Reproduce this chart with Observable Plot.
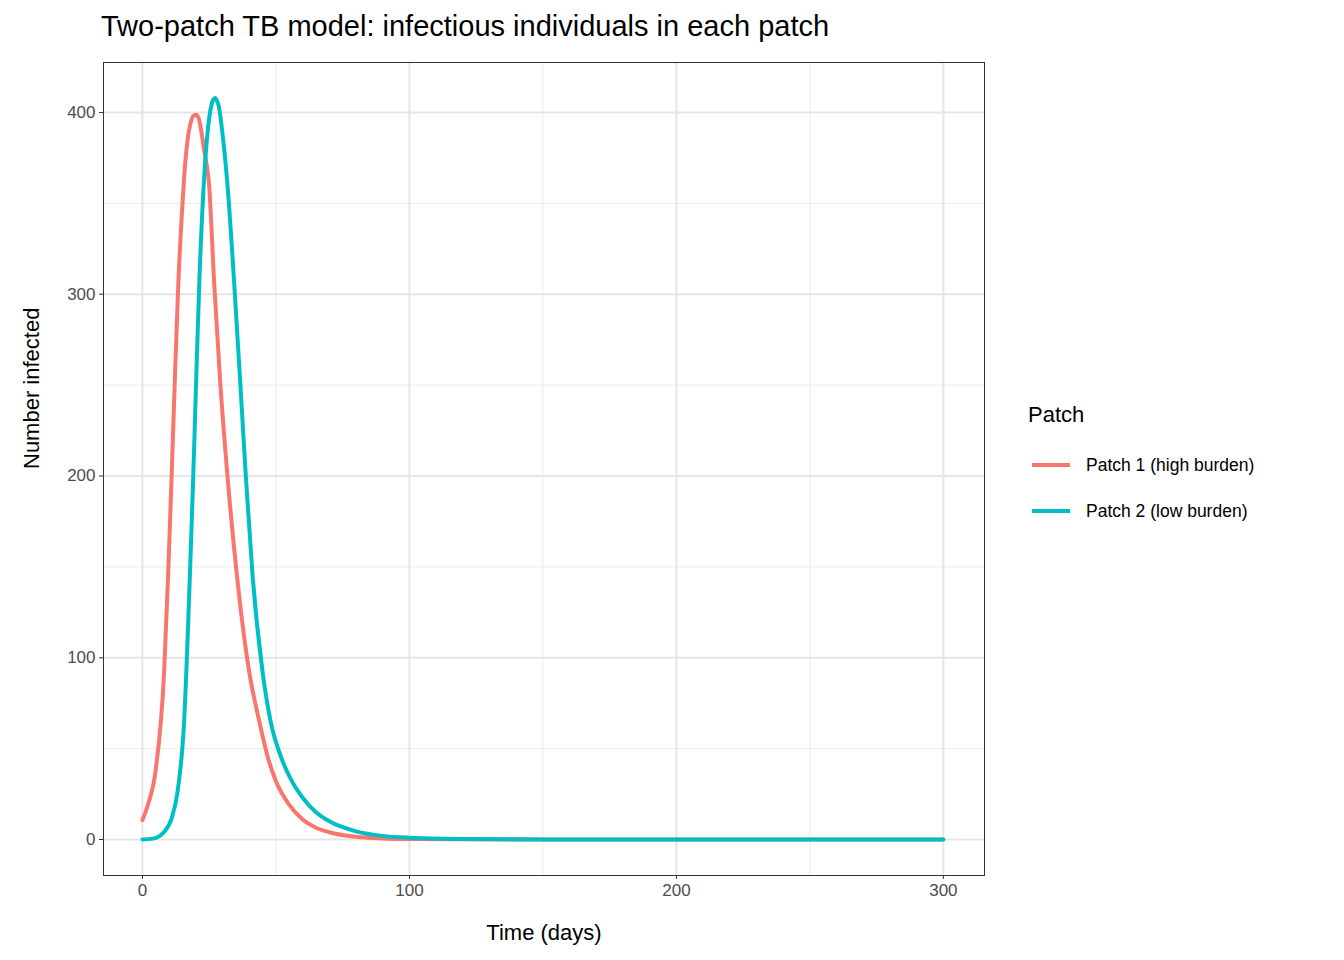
<!DOCTYPE html>
<html><head><meta charset="utf-8">
<script src="https://cdn.jsdelivr.net/npm/d3@7"></script>
<script src="https://cdn.jsdelivr.net/npm/@observablehq/plot@0.6"></script>
<style>
body{margin:0;font-family:"Liberation Sans",Arial,sans-serif;background:#fff}
#wrap{position:relative;width:1344px;height:960px}
#title{position:absolute;left:101px;top:10px;font-size:29px;color:#000}
#legend{position:absolute;left:1028px;top:402px;font-size:17.5px;color:#000}
#legend .h{font-size:22px;margin-bottom:14px}
#legend .row{display:flex;align-items:center;height:46px}
#legend .sw{width:38px;height:4px;margin-right:16px;margin-left:4px}
</style></head><body>
<div id="wrap"><div id="title">Two-patch TB model: infectious individuals in each patch</div>
<div id="legend"><div class="h">Patch</div></div></div>
<script>
const seriesNames = ["Patch 1 (high burden)", "Patch 2 (low burden)"];
const colors = ["#F8766D", "#00BFC4"];
const p1t = [0,2,5,8.1,9.6,10.9,12.1,13.4,15,16,17,18,19,20,21,22,23,25,26.9,29.1,31.9,35.4,40,43.75,47,50,55,60,65,70,80,90,100,120,150,200,250,300];
const p1v = [10.7,19,38.7,92,145,199,252,305,350,372,386,394,398,398.7,397,390,380,359,305,252,199,145,92,65,45,32,19,11,6.5,4,1.5,0.6,0.3,0.1,0,0,0,0];
const p2t = [0,4,8,11,13,15.6,17.75,19,20.1,21.25,22.75,24,25,26,26.5,27.25,28,28.5,30,31.9,34.4,36.6,38.75,41.25,45,48,52,56,60,65,70,80,90,100,120,150,200,250,300];
const p2v = [0,0.5,4,12,25,65,145,199,252,305,355,383,397,405,407,408,406,404,388,359,305,252,199,145,92,65,45,32,23,15,10,4.5,2,1,0.3,0,0,0,0];
const data = [
  ...p1t.map((t,i)=>({t, v:p1v[i], s:seriesNames[0]})),
  ...p2t.map((t,i)=>({t, v:p2v[i], s:seriesNames[1]}))
];
const xMajor=[0,100,200,300], xMinor=[50,150,250];
const yMajor=[0,100,200,300,400], yMinor=[50,150,250,350];
const chart = Plot.plot({
  width:1344, height:960,
  marginLeft:103, marginRight:360, marginTop:62, marginBottom:85,
  style:{fontFamily:"Liberation Sans, Arial, sans-serif", fontSize:"17px", color:"#4d4d4d"},
  x:{domain:[-14.6,315.4]},
  y:{domain:[-19.8,427.5]},
  color:{domain:seriesNames, range:colors},
  marks:[
    Plot.ruleX(xMinor,{stroke:"#ebebeb",strokeWidth:1}),
    Plot.ruleY(yMinor,{stroke:"#ebebeb",strokeWidth:1}),
    Plot.ruleX(xMajor,{stroke:"#e5e5e5",strokeWidth:2}),
    Plot.ruleY(yMajor,{stroke:"#e5e5e5",strokeWidth:2}),
    Plot.axisX({ticks:xMajor,tickSize:4,tickPadding:4,stroke:"#333",fill:"#4d4d4d",label:null,fontSize:17}),
    Plot.axisY({ticks:yMajor,tickSize:4,tickPadding:4,stroke:"#333",fill:"#4d4d4d",label:null,fontSize:17}),
    Plot.text(["Time (days)"],{frameAnchor:"bottom",dy:64,fontSize:22,fill:"#000"}),
    Plot.text(["Number infected"],{frameAnchor:"left",dx:-72,rotate:-90,fontSize:22,fill:"#000"}),
    Plot.line(data,{x:"t",y:"v",stroke:"s",z:"s",strokeWidth:4,curve:"monotone-x"}),
    Plot.frame({stroke:"#333",strokeWidth:1})
  ]
});
document.getElementById("wrap").prepend(chart);
chart.style.position="absolute";chart.style.left="0";chart.style.top="0";
const lg=document.getElementById("legend");
seriesNames.forEach((n,i)=>{const r=document.createElement("div");r.className="row";
r.innerHTML=`<div class="sw" style="background:${colors[i]}"></div><span>${n}</span>`;lg.appendChild(r);});
</script></body></html>
